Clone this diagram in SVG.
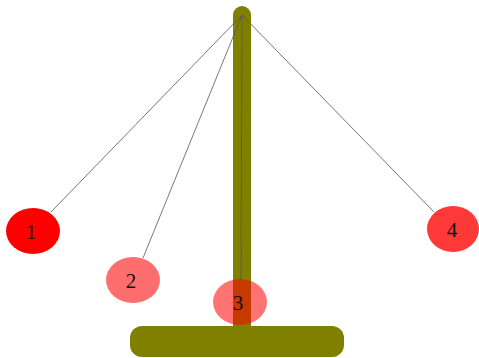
<svg xmlns="http://www.w3.org/2000/svg" width="479" height="358" viewBox="0 0 479 358">
<style>
.stand{fill:#808000}
.link{stroke:#555;stroke-width:0.8;fill:none}
.lbl{font-family:"Liberation Serif",serif;font-size:21px;fill:#111;text-anchor:middle;dominant-baseline:central}
</style>
<rect width="479" height="358" fill="#fff"/>
<g id="stand">
<rect class="stand" x="233" y="6" width="18" height="330" rx="9"/>
<rect class="stand" x="130" y="326" width="214" height="31" rx="12"/>
</g>
<g id="connectors">
<line class="link" x1="242" y1="15" x2="51" y2="212"/>
<line class="link" x1="242" y1="15" x2="143" y2="258"/>
<line class="link" x1="242" y1="15" x2="241" y2="280"/>
<line class="link" x1="242" y1="15" x2="434" y2="212"/>
</g>
<g id="node1"><ellipse cx="33" cy="231" rx="27" ry="23" fill="#ff0000"/><text class="lbl" x="31" y="232">1</text></g>
<g id="node2"><ellipse cx="133" cy="280" rx="27" ry="23" fill="#ff0000" fill-opacity="0.57"/><text class="lbl" x="131" y="281">2</text></g>
<g id="node3"><ellipse cx="240" cy="302" rx="27" ry="23" fill="#ff0000" fill-opacity="0.55"/><text class="lbl" x="238" y="303">3</text></g>
<g id="node4"><ellipse cx="453" cy="229" rx="26" ry="23" fill="#ff0000" fill-opacity="0.78"/><text class="lbl" x="452" y="230">4</text></g>
</svg>
